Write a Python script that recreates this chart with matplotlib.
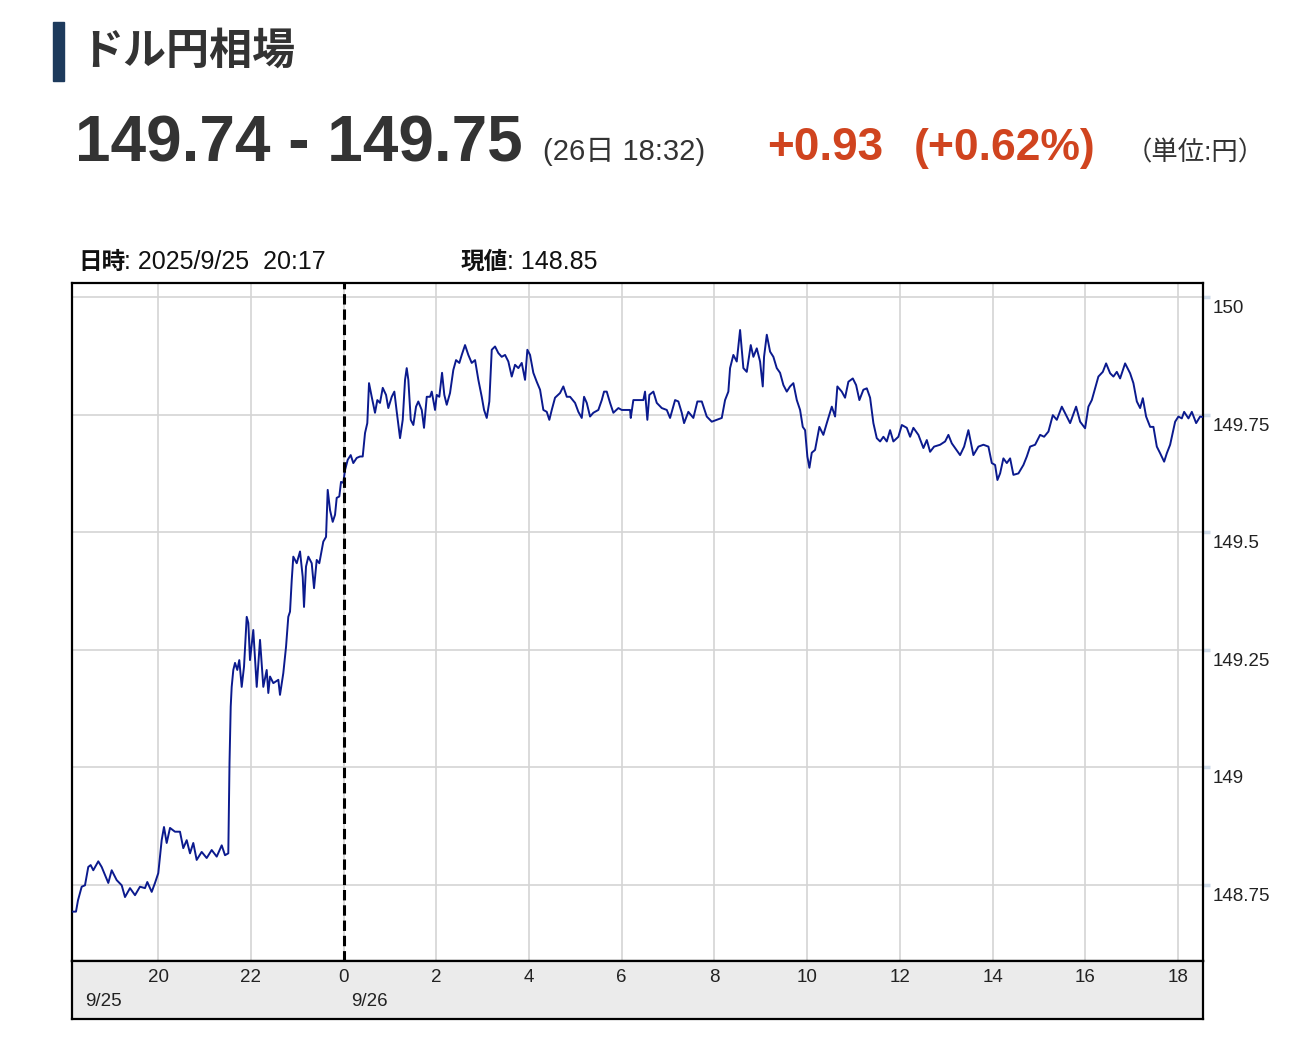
import matplotlib
matplotlib.use('Agg')
import matplotlib.pyplot as plt
import matplotlib.transforms as mtransforms
from matplotlib.patches import Rectangle

# Fuentes: latín primero, japonés como respaldo
plt.rcParams['font.family'] = ['Liberation Sans', 'Noto Sans CJK JP', 'DejaVu Sans']

# Datos: hora (0 = 9/26 0:00) y cotización USD/JPY
jikan = [
    -5.833, -5.770, -5.727, -5.647, -5.576, -5.505, -5.453, -5.397, -5.289, -5.216,
    -5.073, -5.000, -4.892, -4.784, -4.713, -4.605, -4.497, -4.390, -4.282, -4.232,
    -4.137, -4.066, -3.995, -3.922, -3.872, -3.814, -3.742, -3.635, -3.527, -3.456,
    -3.382, -3.311, -3.240, -3.167, -3.059, -2.951, -2.843, -2.735, -2.627, -2.556,
    -2.485, -2.474, -2.459, -2.433, -2.412, -2.377, -2.340, -2.291, -2.248, -2.196,
    -2.146, -2.088, -2.053, -2.017, -1.946, -1.872, -1.801, -1.730, -1.657, -1.622,
    -1.585, -1.514, -1.406, -1.370, -1.299, -1.240, -1.191, -1.154, -1.117, -1.083,
    -1.009, -0.938, -0.880, -0.852, -0.809, -0.759, -0.686, -0.636, -0.578, -0.522,
    -0.470, -0.436, -0.377, -0.341, -0.291, -0.233, -0.183, -0.147, -0.091, -0.054,
    -0.004, 0.032, 0.091, 0.155, 0.211, 0.285, 0.356, 0.414, 0.464, 0.513,
    0.550, 0.608, 0.679, 0.729, 0.787, 0.846, 0.917, 0.966, 1.040, 1.096,
    1.148, 1.219, 1.277, 1.327, 1.363, 1.398, 1.450, 1.506, 1.564, 1.613,
    1.687, 1.736, 1.795, 1.866, 1.903, 1.974, 2.010, 2.066, 2.125, 2.174,
    2.226, 2.297, 2.368, 2.427, 2.498, 2.550, 2.621, 2.692, 2.765, 2.837,
    2.908, 2.981, 3.031, 3.089, 3.145, 3.197, 3.268, 3.339, 3.412, 3.484,
    3.555, 3.628, 3.699, 3.771, 3.844, 3.915, 3.965, 4.023, 4.094, 4.167,
    4.239, 4.310, 4.383, 4.439, 4.491, 4.562, 4.670, 4.741, 4.815, 4.886,
    4.994, 5.065, 5.138, 5.188, 5.246, 5.317, 5.388, 5.496, 5.570, 5.619,
    5.677, 5.749, 5.820, 5.928, 6.001, 6.180, 6.195, 6.251, 6.467, 6.503,
    6.553, 6.596, 6.683, 6.756, 6.864, 6.972, 7.043, 7.151, 7.222, 7.295,
    7.345, 7.437, 7.545, 7.632, 7.727, 7.834, 7.942, 8.050, 8.158, 8.229,
    8.300, 8.337, 8.408, 8.481, 8.553, 8.624, 8.697, 8.783, 8.840, 8.913,
    8.984, 9.042, 9.070, 9.129, 9.200, 9.271, 9.344, 9.415, 9.487, 9.560,
    9.631, 9.702, 9.776, 9.847, 9.905, 9.955, 10.004, 10.048, 10.099, 10.170,
    10.263, 10.349, 10.423, 10.531, 10.602, 10.651, 10.746, 10.817, 10.889, 10.984,
    11.055, 11.126, 11.212, 11.286, 11.357, 11.428, 11.501, 11.573, 11.644, 11.717,
    11.788, 11.859, 11.967, 12.041, 12.148, 12.220, 12.291, 12.399, 12.507, 12.580,
    12.651, 12.737, 12.867, 12.975, 13.046, 13.119, 13.190, 13.298, 13.385, 13.477,
    13.585, 13.693, 13.801, 13.909, 13.982, 14.053, 14.103, 14.161, 14.232, 14.306,
    14.377, 14.448, 14.556, 14.664, 14.737, 14.808, 14.916, 15.024, 15.110, 15.203,
    15.298, 15.384, 15.492, 15.585, 15.671, 15.800, 15.887, 15.994, 16.066, 16.139,
    16.210, 16.281, 16.376, 16.447, 16.534, 16.605, 16.678, 16.749, 16.857, 16.965,
    17.036, 17.110, 17.181, 17.239, 17.310, 17.397, 17.468, 17.541, 17.612, 17.699,
    17.757, 17.828, 17.936, 18.007, 18.080, 18.130, 18.223, 18.296, 18.389, 18.475, 18.533,
]
kakaku = [
    148.693, 148.693, 148.717, 148.746, 148.749, 148.788, 148.792, 148.781, 148.800, 148.788,
    148.754, 148.781, 148.760, 148.749, 148.724, 148.743, 148.728, 148.746, 148.743, 148.756,
    148.735, 148.754, 148.775, 148.845, 148.873, 148.839, 148.871, 148.863, 148.863, 148.828,
    148.845, 148.817, 148.839, 148.803, 148.820, 148.807, 148.824, 148.810, 148.834, 148.813,
    148.817, 148.903, 149.009, 149.129, 149.171, 149.207, 149.222, 149.207, 149.228, 149.171,
    149.214, 149.320, 149.307, 149.228, 149.292, 149.171, 149.271, 149.171, 149.207, 149.158,
    149.193, 149.179, 149.186, 149.154, 149.200, 149.256, 149.320, 149.331, 149.398, 149.448,
    149.434, 149.459, 149.405, 149.341, 149.427, 149.448, 149.434, 149.381, 149.441, 149.434,
    149.462, 149.480, 149.490, 149.590, 149.547, 149.522, 149.537, 149.573, 149.576, 149.607,
    149.605, 149.632, 149.654, 149.664, 149.647, 149.658, 149.661, 149.661, 149.711, 149.732,
    149.817, 149.788, 149.754, 149.781, 149.775, 149.807, 149.792, 149.764, 149.788, 149.799,
    149.756, 149.700, 149.739, 149.824, 149.849, 149.824, 149.739, 149.728, 149.767, 149.778,
    149.760, 149.722, 149.788, 149.788, 149.799, 149.760, 149.792, 149.788, 149.839, 149.792,
    149.771, 149.796, 149.845, 149.866, 149.860, 149.877, 149.898, 149.877, 149.860, 149.866,
    149.824, 149.788, 149.760, 149.743, 149.778, 149.888, 149.895, 149.881, 149.873, 149.877,
    149.863, 149.831, 149.856, 149.849, 149.860, 149.824, 149.888, 149.877, 149.839, 149.820,
    149.803, 149.760, 149.756, 149.739, 149.760, 149.786, 149.796, 149.810, 149.788, 149.788,
    149.775, 149.756, 149.743, 149.788, 149.775, 149.746, 149.754, 149.760, 149.781, 149.799,
    149.799, 149.775, 149.754, 149.764, 149.760, 149.760, 149.743, 149.781, 149.781, 149.799,
    149.739, 149.792, 149.799, 149.775, 149.764, 149.760, 149.743, 149.781, 149.778, 149.754,
    149.732, 149.756, 149.743, 149.778, 149.778, 149.746, 149.735, 149.739, 149.743, 149.781,
    149.799, 149.849, 149.877, 149.863, 149.930, 149.849, 149.841, 149.898, 149.873, 149.891,
    149.863, 149.810, 149.873, 149.920, 149.884, 149.873, 149.849, 149.839, 149.813, 149.799,
    149.810, 149.817, 149.781, 149.760, 149.724, 149.717, 149.661, 149.637, 149.669, 149.675,
    149.724, 149.707, 149.732, 149.767, 149.746, 149.810, 149.799, 149.786, 149.820, 149.827,
    149.813, 149.781, 149.803, 149.806, 149.786, 149.732, 149.700, 149.693, 149.703, 149.693,
    149.717, 149.693, 149.703, 149.728, 149.722, 149.703, 149.722, 149.707, 149.679, 149.696,
    149.671, 149.682, 149.686, 149.693, 149.707, 149.689, 149.679, 149.664, 149.682, 149.717,
    149.664, 149.682, 149.686, 149.682, 149.647, 149.643, 149.611, 149.625, 149.657, 149.647,
    149.657, 149.622, 149.625, 149.643, 149.661, 149.682, 149.686, 149.707, 149.703, 149.714,
    149.749, 149.739, 149.767, 149.749, 149.732, 149.767, 149.735, 149.721, 149.767, 149.781,
    149.806, 149.831, 149.841, 149.859, 149.838, 149.831, 149.841, 149.827, 149.859, 149.838,
    149.817, 149.778, 149.764, 149.785, 149.746, 149.724, 149.724, 149.682, 149.668, 149.650,
    149.668, 149.686, 149.735, 149.746, 149.742, 149.756, 149.742, 149.756, 149.732, 149.746, 149.745,
]

# Ejes: marcas y etiquetas
horas = [-4, -2, 0, 2, 4, 6, 8, 10, 12, 14, 16, 18]
etiquetas_horas = ['20', '22', '0', '2', '4', '6', '8', '10', '12', '14', '16', '18']
niveles = [148.75, 149.0, 149.25, 149.5, 149.75, 150.0]
etiquetas_niveles = ['148.75', '149', '149.25', '149.5', '149.75', '150']
fechas = ['9/25', '9/26']

W, H = 1316, 1048
fig = plt.figure(figsize=(W / 100, H / 100), dpi=100)
fig.patch.set_facecolor('white')

# Cabecera
fig.patches.append(Rectangle((53 / W, 1 - 81 / H), 11 / W, 59 / H,
                             transform=fig.transFigure, color='#1d3a5c'))
fig.text(80 / W, 1 - 52 / H, 'ドル円相場', fontsize=31, fontweight='bold',
         color='#333333', va='center', ha='left')
fig.text(75 / W, 1 - 161 / H, '149.74 - 149.75', fontsize=46, fontweight='bold',
         color='#333333', va='baseline', ha='left')
fig.text(543 / W, 1 - 160 / H, '(26日 18:32)', fontsize=21,
         color='#333333', va='baseline', ha='left')
fig.text(767 / W, 1 - 160 / H, '+0.93', fontsize=33, fontweight='bold',
         color='#d0441f', va='baseline', ha='left')
fig.text(914 / W, 1 - 160 / H, '(+0.62%)', fontsize=32, fontweight='bold',
         color='#d0441f', va='baseline', ha='left')
fig.text(1126 / W, 1 - 160 / H, '（単位:円）', fontsize=19,
         color='#333333', va='baseline', ha='left')

# Información del cursor
fig.text(78 / W, 1 - 269 / H, '日時', fontsize=17, fontweight='bold',
         color='#111111', va='baseline', ha='left')
fig.text(124 / W, 1 - 269 / H, ': 2025/9/25  20:17', fontsize=18,
         color='#111111', va='baseline', ha='left')
fig.text(461 / W, 1 - 269 / H, '現値', fontsize=17, fontweight='bold',
         color='#111111', va='baseline', ha='left')
fig.text(507 / W, 1 - 269 / H, ': 148.85', fontsize=18,
         color='#111111', va='baseline', ha='left')

# Gráfico principal
ax = fig.add_axes([72 / W, 1 - 961 / H, 1131 / W, 678 / H])
ax.plot(jikan, kakaku, color='#0b1a8e', lw=1.4, zorder=3)
ax.set_xlim(-5.856, 18.537)
ax.set_ylim(148.588, 150.030)
ax.set_xticks(horas)
ax.set_yticks(niveles)
ax.grid(True, color='#d4d4d4', lw=1.2, zorder=0)
ax.tick_params(axis='x', length=0, labelbottom=False)
ax.tick_params(axis='y', left=False, right=True, length=5, width=2.5,
               color='#cfdbe8', labelleft=False, labelright=False)
for s in ax.spines.values():
    s.set_linewidth(1.6)
    s.set_color('black')

# Línea de cambio de día
ax.axvline(0, color='black', lw=2.2, dashes=(3.4, 1.6), zorder=4)

# Etiquetas del eje y a la derecha
trans_y = mtransforms.blended_transform_factory(ax.transAxes, ax.transData)
trans_y = mtransforms.offset_copy(trans_y, fig=fig, x=10, y=-3, units='dots')
for nivel, etiqueta in zip(niveles, etiquetas_niveles):
    ax.text(1.0, nivel, etiqueta, transform=trans_y, fontsize=13.5,
            color='#222222', va='top', ha='left')

# Franja gris con horas y fechas
axb = fig.add_axes([72 / W, 1 - 1019 / H, 1131 / W, 58 / H])
axb.set_facecolor('#ebebeb')
axb.set_xlim(ax.get_xlim())
axb.set_ylim(0, 1)
axb.set_xticks([])
axb.set_yticks([])
for s in axb.spines.values():
    s.set_linewidth(1.6)
    s.set_color('black')
for h, etiqueta in zip(horas, etiquetas_horas):
    axb.text(h, 0.72, etiqueta, fontsize=13.5, color='#222222',
             ha='center', va='center')
trans_f = mtransforms.offset_copy(axb.transData, fig=fig, x=8, y=0, units='dots')
axb.text(-5.856, 0.31, fechas[0], transform=mtransforms.offset_copy(
    axb.transData, fig=fig, x=13, y=0, units='dots'),
    fontsize=13.5, color='#222222', ha='left', va='center')
axb.text(0, 0.31, fechas[1], transform=trans_f, fontsize=13.5,
         color='#222222', ha='left', va='center')

plt.savefig('out.png', dpi=100)
